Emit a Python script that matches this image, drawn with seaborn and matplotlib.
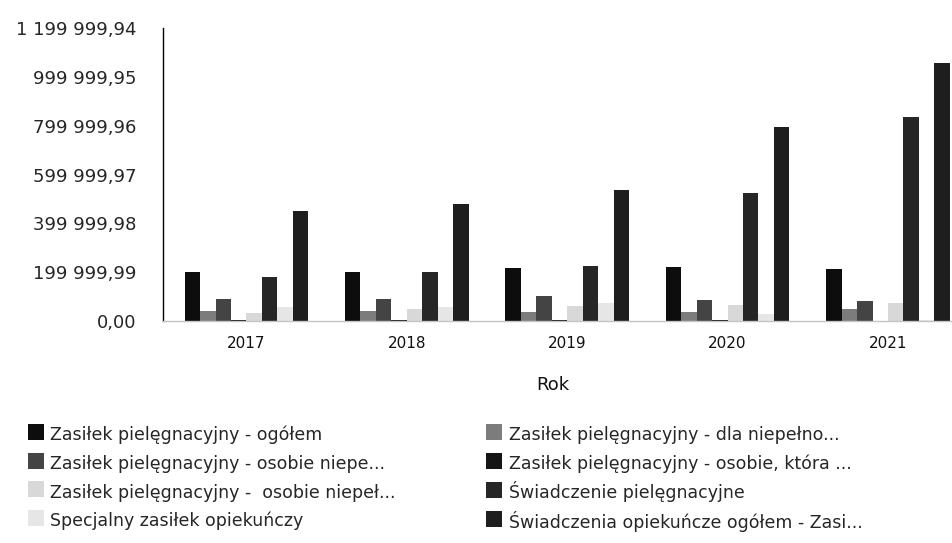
import matplotlib
matplotlib.use("Agg")
import matplotlib.pyplot as plt
from matplotlib.lines import Line2D
import pandas as pd
import seaborn as sns

# Categories (years) and series shown in the grouped bar chart
years = ["2017", "2018", "2019", "2020", "2021"]

series_names = [
    "Zasiłek pielęgnacyjny - ogółem",
    "Zasiłek pielęgnacyjny - dla niepełno...",
    "Zasiłek pielęgnacyjny - osobie niepe...",
    "Zasiłek pielęgnacyjny - osobie, która ...",
    "Zasiłek pielęgnacyjny -  osobie niepeł...",
    "Świadczenie pielęgnacyjne",
    "Specjalny zasiłek opiekuńczy",
    "Świadczenia opiekuńcze ogółem - Zasi...",
]

# Values per series, one per year
zp_ogolem = [202000, 201000, 216000, 222000, 212000]
zp_dzieci = [41000, 42000, 38000, 38000, 48000]
zp_znaczny = [90000, 91000, 102000, 86000, 82000]
zp_75lat = [5000, 3000, 3000, 3000, 1500]
zp_umiarkowany = [33000, 48000, 60000, 65000, 72000]
swiadczenie_piel = [181000, 201000, 226000, 523000, 837000]
specjalny = [58000, 58000, 72000, 30000, 3000]
opiekuncze_ogolem = [450000, 478000, 536000, 796000, 1058000]

series_values = [
    zp_ogolem, zp_dzieci, zp_znaczny, zp_75lat,
    zp_umiarkowany, swiadczenie_piel, specjalny, opiekuncze_ogolem,
]

# Y axis tick values and their Polish-formatted labels
y_ticks = [0.00, 199999.99, 399999.98, 599999.97, 799999.96, 999999.95, 1199999.94]
y_labels = [f"{v:,.2f}".replace(",", " ").replace(".", ",") for v in y_ticks]

series_colors = ["#0d0d0d", "#7c7c7c", "#444444", "#151515",
                 "#d8d8d8", "#262626", "#e6e6e6", "#1e1e1e"]

rows = []
for name, vals in zip(series_names, series_values):
    for year, v in zip(years, vals):
        rows.append({"Rok": year, "seria": name, "wartosc": v})
df = pd.DataFrame(rows)

sns.set_style("white")
plt.rcParams["font.family"] = ["DejaVu Sans"]

fig = plt.figure(figsize=(9.52, 5.43), dpi=100)
ax = fig.add_axes([163 / 952, 1 - 321 / 543, 802 / 952, 293 / 543])

sns.barplot(data=df, x="Rok", y="wartosc", hue="seria", hue_order=series_names,
            order=years, palette=series_colors, saturation=1, width=0.77,
            linewidth=0, errorbar=None, legend=False, ax=ax)

ax.set_ylim(0, y_ticks[-1])
ax.set_xlim(-0.52, len(years) - 0.52)
ax.set_yticks(y_ticks)
ax.set_yticklabels(y_labels, fontsize=13)
ax.tick_params(axis="y", length=0, pad=19)
ax.tick_params(axis="x", length=0, pad=11, labelsize=11)
for lbl in ax.get_xticklabels():
    lbl.set_color("#111111")

ax.set_ylabel("")
ax.set_xlabel("Rok", fontsize=13, color="#111111")
ax.xaxis.set_label_coords((553 - 163) / 802, -0.218)
ax.xaxis.label.set_va("center")

for side in ("top", "right"):
    ax.spines[side].set_visible(False)
ax.spines["left"].set_color("#000000")
ax.spines["left"].set_linewidth(1.0)
ax.spines["bottom"].set_color("#c4c4c4")
ax.spines["bottom"].set_linewidth(1.0)

# Legend in two columns, filled row by row, with square swatches
handles = [Line2D([], [], marker="s", linestyle="none", markersize=11,
                  markerfacecolor=c, markeredgewidth=0) for c in series_colors]
order = [0, 2, 4, 6, 1, 3, 5, 7]
fig.legend([handles[i] for i in order], [series_names[i] for i in order],
           loc="upper left", bbox_to_anchor=(26 / 952, 1 - 424 / 543),
           ncol=2, frameon=False, fontsize=12.5, handlelength=1.1,
           handleheight=1.5, handletextpad=0.3, labelspacing=0.43,
           columnspacing=5.1, borderpad=0, borderaxespad=0)

fig.savefig("out.png", dpi=100)
